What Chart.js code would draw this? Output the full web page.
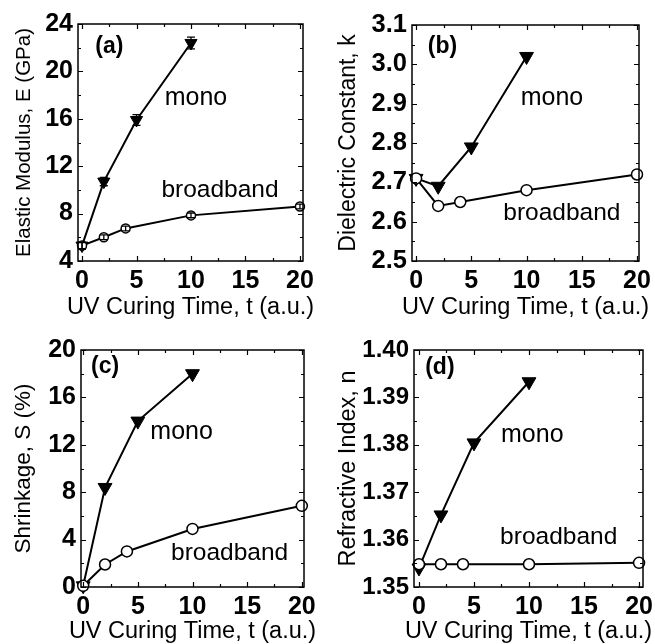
<!DOCTYPE html>
<html>
<head>
<meta charset="utf-8">
<script src="https://cdn.jsdelivr.net/npm/chart.js@4.4.0/dist/chart.umd.min.js"></script>
<style>
  body { margin: 0; background: #fff; }
  #wrap { position: relative; width: 655px; height: 644px; }
  #wrap canvas { position: absolute; }
</style>
</head>
<body>
<div id="wrap">
  <canvas id="panelA" width="327" height="322" style="left:0;top:0"></canvas>
  <canvas id="panelB" width="328" height="322" style="left:327px;top:0"></canvas>
  <canvas id="panelC" width="327" height="322" style="left:0;top:322px"></canvas>
  <canvas id="panelD" width="328" height="322" style="left:327px;top:322px"></canvas>
</div>
<script>
// UV curing times (a.u.)
const tMono = [0, 2, 5, 10];
const tBroad = [0, 2, 4, 10, 20];
const timeTicks = [0, 5, 10, 15, 20];

// (a) elastic modulus, GPa
const modMono = [5.3, 10.7, 15.9, 22.4];
const modMonoErr = [0.3, 0.35, 0.45, 0.5];
const modBroad = [5.3, 6.0, 6.75, 7.85, 8.6];
const modBroadErr = [0.25, 0.2, 0.2, 0.2, 0.2];
const modTicks = [4, 8, 12, 16, 20, 24];

// (b) dielectric constant
const kMono = [2.71, 2.69, 2.79, 3.02];
const kBroad = [2.71, 2.64, 2.65, 2.68, 2.72];
const kTicks = [2.5, 2.6, 2.7, 2.8, 2.9, 3.0, 3.1];

// (c) shrinkage, %
const shrMono = [0.1, 8.4, 14.0, 18.0];
const shrBroad = [0.1, 1.9, 3.0, 4.9, 6.85];
const shrTicks = [0, 4, 8, 12, 16, 20];

// (d) refractive index
const nMono = [1.354, 1.3652, 1.3804, 1.3933];
const nBroad = [1.3548, 1.3548, 1.3548, 1.3548, 1.3551];
const nTicks = [1.35, 1.36, 1.37, 1.38, 1.39, 1.40];

const FONT = '"Liberation Sans", Arial, sans-serif';
const X_TITLE = 'UV Curing Time, t (a.u.)';

const pts = (xs, ys) => xs.map((x, i) => ({x: x, y: ys[i]}));

// frame, inward ticks on all four sides, error bars, x title and text notes
const framePlugin = {
  id: 'frame',
  afterDatasetsDraw(chart) {
    const ctx = chart.ctx;
    const xs = chart.scales.x, ys = chart.scales.y;
    ctx.save();
    ctx.strokeStyle = '#000';
    ctx.lineWidth = 1.3;
    chart.data.datasets.forEach((ds) => {
      if (!ds.err) return;
      ds.data.forEach((p, i) => {
        const px = xs.getPixelForValue(p.x);
        const y1 = ys.getPixelForValue(p.y - ds.err[i]);
        const y2 = ys.getPixelForValue(p.y + ds.err[i]);
        ctx.beginPath();
        ctx.moveTo(px, y1); ctx.lineTo(px, y2);
        ctx.moveTo(px - 4, y1); ctx.lineTo(px + 4, y1);
        ctx.moveTo(px - 4, y2); ctx.lineTo(px + 4, y2);
        ctx.stroke();
      });
    });
    ctx.restore();
  },
  afterDraw(chart, args, opts) {
    const ctx = chart.ctx;
    const a = chart.chartArea;
    const xs = chart.scales.x, ys = chart.scales.y;
    ctx.save();
    ctx.strokeStyle = '#000';
    ctx.lineWidth = 1.5;
    ctx.strokeRect(a.left, a.top, a.right - a.left, a.bottom - a.top);

    ctx.lineWidth = 1.2;
    ctx.beginPath();
    const xMajor = xs.ticks.map(t => t.value);
    const xStep = xMajor[1] - xMajor[0];
    for (let i = 0; i < xMajor.length * 2 - 1; i++) {
      const v = xMajor[0] + i * xStep / 2;
      const len = i % 2 === 0 ? 5 : 3;
      const px = Math.round(xs.getPixelForValue(v)) + 0.5;
      ctx.moveTo(px, a.bottom); ctx.lineTo(px, a.bottom - len);
      ctx.moveTo(px, a.top); ctx.lineTo(px, a.top + len);
    }
    const yMajor = ys.ticks.map(t => t.value);
    const yStep = yMajor[1] - yMajor[0];
    for (let i = 0; i < yMajor.length * 2 - 1; i++) {
      const v = yMajor[0] + i * yStep / 2;
      const len = i % 2 === 0 ? 5 : 3;
      const py = Math.round(ys.getPixelForValue(v)) + 0.5;
      ctx.moveTo(a.left, py); ctx.lineTo(a.left + len, py);
      ctx.moveTo(a.right, py); ctx.lineTo(a.right - len, py);
    }
    ctx.stroke();

    ctx.fillStyle = '#000';
    ctx.textAlign = 'center';
    ctx.textBaseline = 'middle';
    // x title is wider than the plot box, so draw it here without a maxWidth squeeze
    ctx.font = '23.5px ' + FONT;
    ctx.fillText(X_TITLE, (a.left + a.right) / 2, chart.height - opts.xTitleOffset);

    (opts.notes || []).forEach(n => {
      ctx.font = (n.bold ? 'bold ' : '') + n.size + 'px ' + FONT;
      ctx.fillText(n.text, xs.getPixelForValue(n.x), ys.getPixelForValue(n.y));
    });
    ctx.restore();
  }
};

function makePanel(cfg) {
  const canvas = document.getElementById(cfg.id);
  const W = canvas.width, H = canvas.height;
  const area = cfg.area;
  return new Chart(canvas, {
    type: 'line',
    data: {
      datasets: [
        {
          label: 'broadband',
          data: pts(tBroad, cfg.broad),
          err: cfg.broadErr,
          borderColor: '#000', borderWidth: 2,
          pointStyle: 'circle', pointRadius: cfg.circleR,
          pointBackgroundColor: '#fff', pointBorderColor: '#000', pointBorderWidth: 1.5,
          clip: false
        },
        {
          label: 'mono',
          data: pts(tMono, cfg.mono),
          err: cfg.monoErr,
          borderColor: '#000', borderWidth: 2,
          pointStyle: 'triangle', pointRotation: 180, pointRadius: cfg.triR,
          pointBackgroundColor: '#000', pointBorderColor: '#000', pointBorderWidth: 1,
          clip: false
        }
      ]
    },
    options: {
      responsive: false,
      animation: false,
      events: [],
      layout: { padding: { left: 0, top: area.top, right: W - area.right, bottom: 0 } },
      plugins: {
        legend: { display: false },
        tooltip: { enabled: false },
        frame: { notes: cfg.notes, xTitleOffset: cfg.xTitleOffset }
      },
      scales: {
        x: {
          type: 'linear',
          min: cfg.xMin, max: cfg.xMax,
          grid: { display: false, drawTicks: false },
          border: { display: false },
          afterBuildTicks: s => { s.ticks = timeTicks.map(v => ({value: v})); },
          afterFit: s => { s.height = H - area.bottom; s.paddingLeft = 0; s.paddingRight = 0; },
          ticks: { color: '#000', padding: 5, font: { family: FONT, size: 25, weight: 'bold' } },
          title: { display: false }
        },
        y: {
          type: 'linear',
          min: cfg.yTicks[0], max: cfg.yTicks[cfg.yTicks.length - 1],
          grid: { display: false, drawTicks: false },
          border: { display: false },
          afterBuildTicks: s => { s.ticks = cfg.yTicks.map(v => ({value: v})); },
          afterFit: s => { s.width = area.left; s.paddingTop = 0; s.paddingBottom = 0; },
          ticks: {
            color: '#000', padding: 5,
            font: { family: FONT, size: cfg.tickSize, weight: 'bold' },
            callback: v => v.toFixed(cfg.dec)
          },
          title: {
            display: true, text: cfg.yTitle, color: '#000',
            padding: { top: cfg.yTitlePad, bottom: 0 },
            font: { family: FONT, size: cfg.yTitleSize, lineHeight: 1 }
          }
        }
      }
    },
    plugins: [framePlugin]
  });
}

makePanel({
  id: 'panelA', area: { left: 78, top: 24, right: 303, bottom: 261 },
  xMin: -0.37, xMax: 20.28, yTicks: modTicks, dec: 0,
  mono: modMono, monoErr: modMonoErr, broad: modBroad, broadErr: modBroadErr,
  triR: 7, circleR: 4.5, tickSize: 25, xTitleOffset: 14,
  yTitle: 'Elastic Modulus, E (GPa)', yTitleSize: 20.5, yTitlePad: 14,
  notes: [
    { text: '(a)', x: 2.5, y: 22.06, size: 23, bold: true },
    { text: 'mono', x: 10.46, y: 17.76, size: 25 },
    { text: 'broadband', x: 12.66, y: 9.99, size: 24.5 }
  ]
});

makePanel({
  id: 'panelB', area: { left: 85, top: 25, right: 312, bottom: 261 },
  xMin: -0.37, xMax: 20.18, yTicks: kTicks, dec: 1,
  mono: kMono, broad: kBroad,
  triR: 8, circleR: 5.5, tickSize: 25.5, xTitleOffset: 14,
  yTitle: 'Dielectric Constant, k', yTitleSize: 23, yTitlePad: 10.5,
  notes: [
    { text: '(b)', x: 2.39, y: 3.044, size: 23, bold: true },
    { text: 'mono', x: 12.3, y: 2.914, size: 25 },
    { text: 'broadband', x: 13.2, y: 2.622, size: 24.5 }
  ]
});

makePanel({
  id: 'panelC', area: { left: 81, top: 28, right: 304, bottom: 265 },
  xMin: -0.2, xMax: 20.2, yTicks: shrTicks, dec: 0,
  mono: shrMono, broad: shrBroad,
  triR: 8, circleR: 5.5, tickSize: 25, xTitleOffset: 12,
  yTitle: 'Shrinkage, S (%)', yTitleSize: 22.5, yTitlePad: 12.7,
  notes: [
    { text: '(c)', x: 2.0, y: 18.57, size: 23, bold: true },
    { text: 'mono', x: 9.0, y: 13.08, size: 25 },
    { text: 'broadband', x: 13.4, y: 2.87, size: 24.5 }
  ]
});

makePanel({
  id: 'panelD', area: { left: 87, top: 28, right: 316, bottom: 265 },
  xMin: -0.45, xMax: 20.36, yTicks: nTicks, dec: 2,
  mono: nMono, broad: nBroad,
  triR: 8, circleR: 5.5, tickSize: 24, xTitleOffset: 12,
  yTitle: 'Refractive Index, n', yTitleSize: 23.5, yTitlePad: 10,
  notes: [
    { text: '(d)', x: 1.9, y: 1.3962, size: 23, bold: true },
    { text: 'mono', x: 10.3, y: 1.3821, size: 25 },
    { text: 'broadband', x: 12.7, y: 1.3605, size: 24.5 }
  ]
});
</script>
</body>
</html>
